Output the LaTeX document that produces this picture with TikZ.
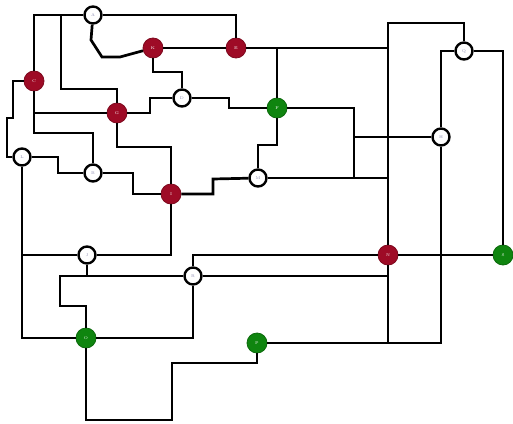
\documentclass[tikz,border=0pt]{standalone}
\usepackage{tikz}
\definecolor{nred}{HTML}{9E0B26}
\definecolor{ngreen}{HTML}{0F850F}
\definecolor{lab}{HTML}{8A8AB0}
\tikzset{
  wire/.style={line width=2.7pt, line join=miter},
  wnode/.style={circle, draw=black, line width=2.4pt, fill=white, minimum size=17pt, inner sep=0pt, font=\fontsize{4}{4}\selectfont, text=lab},
  rnode/.style={circle, draw=nred!80!black, line width=0.8pt, fill=nred, minimum size=20pt, inner sep=0pt, font=\fontsize{4}{4}\selectfont, text=white},
  gnode/.style={circle, draw=ngreen!80!black, line width=0.8pt, fill=ngreen, minimum size=20pt, inner sep=0pt, font=\fontsize{4}{4}\selectfont, text=white}
}
\begin{document}
\begin{tikzpicture}[x=1pt,y=-1pt]
\useasboundingbox (0,0) rectangle (513,423);
% nodes
\node[wnode] (A) at (93,15) {A};
\node[rnode] (K) at (153,48) {K};
\node[rnode] (E) at (236,48) {E};
\node[rnode] (C) at (34,81) {C};
\node[rnode] (G) at (117,113) {G};
\node[wnode] (D) at (182,98) {D};
\node[gnode] (F) at (277,108) {F};
\node[wnode] (L) at (22,157) {L};
\node[wnode] (B) at (93,173) {B};
\node[rnode] (I) at (171,194) {I};
\node[wnode] (M) at (258,178) {M};
\node[wnode] (H) at (441,137) {H};
\node[wnode] (Q) at (464,51) {Q};
\node[rnode] (N) at (388,255) {N};
\node[gnode] (S) at (503,255) {S};
\node[wnode] (J) at (87,255) {J};
\node[wnode] (R) at (193,276) {R};
\node[gnode] (O) at (86,338) {O};
\node[gnode] (P) at (257,343) {P};
% connectors
\draw[wire] (A) -| (C);
\draw[wire] (A) -| (E);
\draw[wire] (61,15) -- (61,89) -| (G);
\draw[wire] (A) -- (91,40) -- (102,57) -- (120,57) -- (K);
\draw[wire] (K) -- (E);
\draw[wire] (E) -- (388,48);
\draw[wire] (F) -- (277,48);
\draw[wire] (K) |- (182,72) -- (D);
\draw[wire] (D) -- (229,98) -- (229,108) -- (F);
\draw[wire] (D) -- (150,98) -- (150,113) -- (G);
\draw[wire] (C) -- (13,81) -- (13,118) -- (7,118) -- (7,157) -- (L);
\draw[wire] (C) |- (G);
\draw[wire] (C) |- (93,133) -- (B);
\draw[wire] (L) -- (58,157) -- (58,173) -- (B);
\draw[wire] (B) -- (133,173) -- (133,194) -- (I);
\draw[wire] (G) -- (117,147) -| (I);
\draw[wire] (I) -- (213,194) -- (213,179) -- (M);
\draw[wire] (M) -- (258,145) -- (277,145) -- (F);
\draw[wire] (M) -- (388,178);
\draw[wire] (F) -- (354,108) -- (354,178);
\draw[wire] (354,137) -- (H);
\draw[wire] (Q) -- (464,23) -- (388,23) -- (N);
\draw[wire] (N) -- (388,343);
\draw[wire] (Q) -| (S);
\draw[wire] (Q) -- (441,51) -- (H);
\draw[wire] (H) -- (441,343) -- (P);
\draw[wire] (N) -- (S);
\draw[wire] (N) -- (193,255) -- (R);
\draw[wire] (I) |- (J);
\draw[wire] (L) |- (O);
\draw[wire] (J) -- (22,255);
\draw[wire] (J) -- (87,276);
\draw[wire] (R) -- (60,276) -- (60,306) -- (86,306) -- (O);
\draw[wire] (R) -- (388,276);
\draw[wire] (O) -| (R);
\draw[wire] (O) -- (86,420) -- (172,420) -- (172,363) -- (257,363) -- (P);
\end{tikzpicture}
\end{document}
